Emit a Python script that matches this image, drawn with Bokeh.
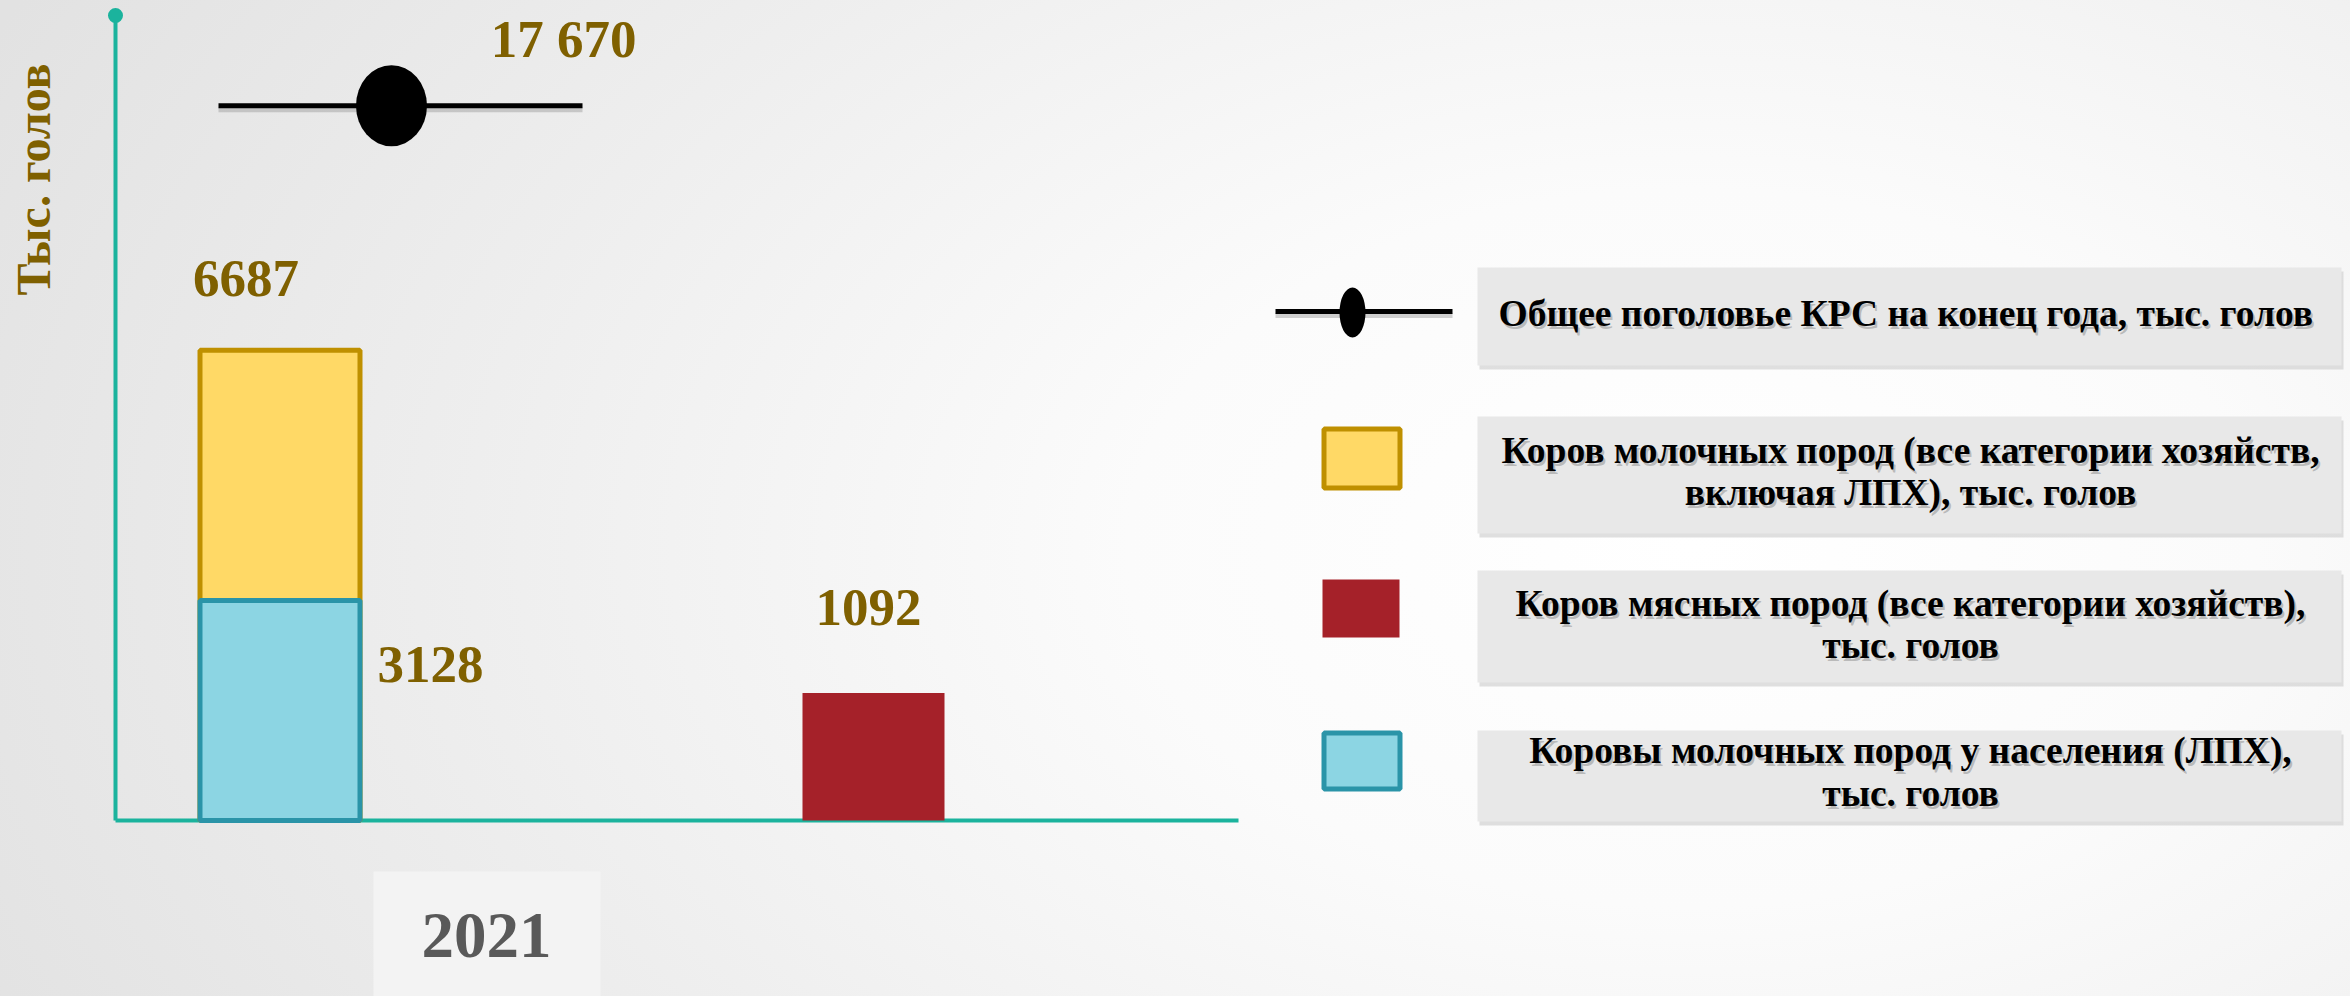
import math
from bokeh.plotting import figure
from bokeh.models import Range1d
from bokeh.core.properties import value
from bokeh.embed import file_html
from bokeh.resources import INLINE

# ---------------- data ----------------
categories = ["2021"]
total_cattle = [17670]            # Общее поголовье КРС на конец года
dairy_cows_all = [6687]           # Коров молочных пород (все категории хозяйств)
beef_cows = [1092]                # Коров мясных пород
dairy_cows_households = [3128]    # Коровы молочных пород у населения (ЛПХ)

y_axis_title = "Тыс. голов"
legend_labels = [
    "Общее поголовье КРС на конец года,  тыс. голов",
    "Коров молочных пород (все категории хозяйств,\nвключая ЛПХ), тыс. голов",
    "Коров мясных пород (все категории хозяйств),\nтыс. голов",
    "Коровы молочных пород у населения (ЛПХ),\nтыс. голов",
]

# value at the top of each (hidden) value axis
DAIRY_AXIS_MAX = 11450
BEEF_AXIS_MAX = 6900
TOTAL_AXIS_MAX = 19900

# ---------------- layout / style ----------------
W, H = 2350, 996
ABOVE, BELOW, PLOT_H = 820, 176, 805     # px above / below baseline, axis length
UNIT = 100.0                              # px per x unit
CAT0 = 486.0                              # px of category centre
FONT = value("Liberation Serif")
GOLD_TXT = "#7f6000"
TEAL = "#1bb39d"

def yr(vmax):
    return Range1d(-vmax * BELOW / PLOT_H, vmax * ABOVE / PLOT_H)

p = figure(width=W, height=H,
           x_range=Range1d(-CAT0 / UNIT, (W - CAT0) / UNIT),
           y_range=yr(DAIRY_AXIS_MAX),
           x_axis_location=None, y_axis_location=None,
           toolbar_location=None, output_backend="svg", min_border=0,
           outline_line_color=None, background_fill_color=None,
           border_fill_color=None)
p.extra_y_ranges = {"beef": yr(BEEF_AXIS_MAX), "total": yr(TOTAL_AXIS_MAX),
                    "px": Range1d(0, H)}
p.extra_x_ranges = {"px": Range1d(0, W)}
p.xgrid.visible = False
p.ygrid.visible = False

idx = list(range(len(categories)))

# offsets / widths in x units
DAIRY_DX, DAIRY_W = -2.065, 1.60
BEEF_DX, BEEF_W = 3.87, 1.42
LINE_X0, LINE_X1, MARK_DX = -2.68, 0.96, -0.95
AXIS_X0, AXIS_X1 = -3.71, 7.52

# ---- axes (teal) ----
p.segment(x0=[AXIS_X0], y0=[0], x1=[AXIS_X0], y1=[DAIRY_AXIS_MAX],
          line_color=TEAL, line_width=4)
p.segment(x0=[AXIS_X0], y0=[0], x1=[AXIS_X1], y1=[0],
          line_color=TEAL, line_width=4)
p.scatter(x=[AXIS_X0], y=[DAIRY_AXIS_MAX], size=15, marker="circle",
          fill_color=TEAL, line_color=None)

# ---- bars ----
p.vbar(x=[i + DAIRY_DX for i in idx], width=DAIRY_W, top=dairy_cows_all, bottom=0,
       fill_color="#ffd966", line_color="#bf9000", line_width=5)
p.vbar(x=[i + DAIRY_DX for i in idx], width=DAIRY_W, top=dairy_cows_households, bottom=0,
       fill_color="#8cd5e3", line_color="#2a94a8", line_width=5)
p.vbar(x=[i + BEEF_DX for i in idx], width=BEEF_W, top=beef_cows, bottom=0,
       fill_color="#a52129", line_color=None, y_range_name="beef")

# ---- total line with marker ----
shadow_dy = 4 * TOTAL_AXIS_MAX / PLOT_H
p.segment(x0=[i + LINE_X0 for i in idx], x1=[i + LINE_X1 for i in idx],
          y0=[v - shadow_dy for v in total_cattle], y1=[v - shadow_dy for v in total_cattle],
          line_color="#9a9a9a", line_alpha=0.45, line_width=5, y_range_name="total")
p.segment(x0=[i + LINE_X0 for i in idx], x1=[i + LINE_X1 for i in idx],
          y0=total_cattle, y1=total_cattle,
          line_color="black", line_width=5, y_range_name="total")
p.ellipse(x=[i + MARK_DX for i in idx], y=total_cattle, width=71, height=81,
          width_units="screen", height_units="screen",
          fill_color="black", line_color=None, y_range_name="total")

# ---- value labels ----
def lab(x, y, txt, rng, align="center", dy=0):
    p.text(x=x, y=y, text=txt, text_font=FONT, text_font_style="bold",
           text_font_size="53px", text_color=GOLD_TXT, text_align=align,
           text_baseline="middle", y_offset=dy, y_range_name=rng)

lab([i + 0.77 for i in idx], total_cattle,
    [f"{v:,}".replace(",", " ") for v in total_cattle], "total", dy=-67)
lab([i - 2.405 for i in idx], dairy_cows_all, [str(v) for v in dairy_cows_all],
    "default", dy=-72)
lab([i - 1.09 for i in idx], dairy_cows_households,
    [str(v) for v in dairy_cows_households], "default", align="left", dy=64)
lab([i + 3.82 for i in idx], beef_cows, [str(v) for v in beef_cows], "beef", dy=-86)

# ---- category label with its box ----
p.quad(left=[373], right=[600], bottom=[0], top=[125], fill_color="#f3f3f3",
       line_color=None, x_range_name="px", y_range_name="px")
p.text(x=idx, y=[61.5] * len(idx), text=categories, text_font=FONT,
       text_font_style="bold", text_font_size="65px", text_color="#595959",
       text_align="center", text_baseline="middle", y_range_name="px")

# ---- y axis title ----
p.text(x=[33], y=[817], text=[y_axis_title], text_font=FONT, text_font_style="bold",
       text_font_size="48px", text_color=GOLD_TXT, angle=math.pi / 2,
       text_align="center", text_baseline="middle",
       x_range_name="px", y_range_name="px")

# ---- legend (px coordinates) ----
BOX_L, BOX_R = 1477, 2341
BOX_TB = [(729, 631), (580, 463), (426, 314), (266, 175)]
FIRST_MID = [683.3, 546.3, 393.2, 245.9]
LINE_GAP = 42.5
TXT_X = 1910

for (t, b) in BOX_TB:
    p.quad(left=[BOX_L + 2], right=[BOX_R + 2], top=[t - 4], bottom=[b - 4],
           fill_color="#d2d2d2", fill_alpha=0.7, line_color=None,
           x_range_name="px", y_range_name="px")
    p.quad(left=[BOX_L], right=[BOX_R], top=[t], bottom=[b],
           fill_color="#e8e8e8", line_color=None,
           x_range_name="px", y_range_name="px")

lx, ly, lt = [], [], []
for label, mid in zip(legend_labels, FIRST_MID):
    for k, line in enumerate(label.split("\n")):
        lx.append(TXT_X)
        ly.append(mid - k * LINE_GAP)
        lt.append(line)
p.text(x=lx, y=ly, text=lt, text_font=FONT, text_font_style="bold",
       text_font_size="37.5px", text_color="#808080", text_alpha=0.45,
       text_align="center", text_baseline="middle", x_offset=2, y_offset=3,
       x_range_name="px", y_range_name="px")
p.text(x=lx, y=ly, text=lt, text_font=FONT, text_font_style="bold",
       text_font_size="37.5px", text_color="black",
       text_align="center", text_baseline="middle",
       x_range_name="px", y_range_name="px")

# legend symbols
p.segment(x0=[1275], x1=[1452], y0=[681], y1=[681], line_color="#9a9a9a",
          line_alpha=0.45, line_width=5, x_range_name="px", y_range_name="px")
p.segment(x0=[1275], x1=[1452], y0=[685], y1=[685], line_color="black",
          line_width=5, x_range_name="px", y_range_name="px")
p.ellipse(x=[1352], y=[684], width=26, height=50, width_units="screen",
          height_units="screen", fill_color="black", line_color=None,
          x_range_name="px", y_range_name="px")
p.rect(x=[1361.5], y=[538], width=76, height=59, fill_color="#ffd966",
       line_color="#bf9000", line_width=5, x_range_name="px", y_range_name="px")
p.rect(x=[1360.5], y=[388], width=77, height=58, fill_color="#a52129",
       line_color=None, x_range_name="px", y_range_name="px")
p.rect(x=[1361.5], y=[235.5], width=76, height=56, fill_color="#8cd5e3",
       line_color="#2a94a8", line_width=5, x_range_name="px", y_range_name="px")

html = file_html(p, INLINE, title="Поголовье КРС")
css = ("<style>html{min-height:100%;background:radial-gradient(ellipse 80% 120% at 72% 55%,"
       "#ffffff 0%,#fbfbfb 30%,#eeeeee 65%,#e2e2e2 100%) !important;}"
       "body{background:transparent !important;}</style>")
html = html.replace("</head>", css + "</head>", 1)
open("out.html", "w", encoding="utf-8").write(html)
